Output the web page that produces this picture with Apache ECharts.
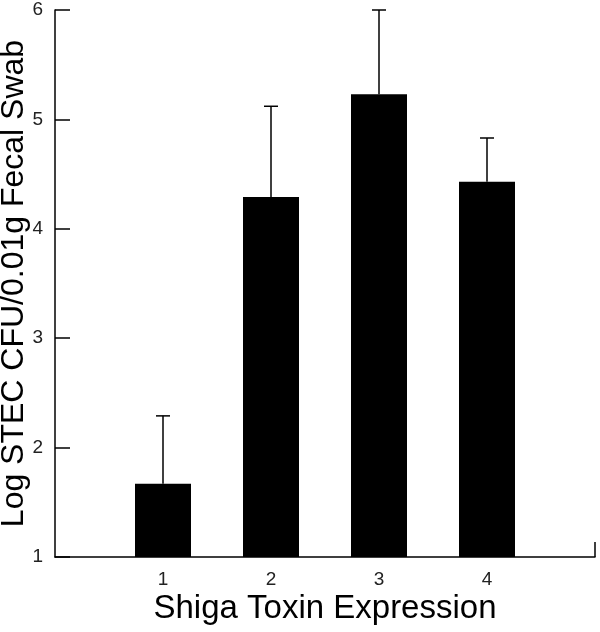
<!DOCTYPE html>
<html>
<head>
<meta charset="utf-8">
<script src="https://cdn.jsdelivr.net/npm/echarts@6/dist/echarts.min.js"></script>
<style>html,body{margin:0;padding:0;background:#fff;}#c{width:600px;height:632px;}</style>
</head>
<body>
<div id="c"></div>
<script>
const categories = [1, 2, 3, 4];
const means = [1.67, 4.29, 5.23, 4.43];
const errorUpper = [2.29, 5.12, 6.00, 4.83];
const yTicks = [1, 2, 3, 4, 5, 6];
const xTitle = 'Shiga Toxin Expression';
const yTitle = 'Log STEC CFU/0.01g Fecal Swab';

const chart = echarts.init(document.getElementById('c'));
const font = 'Liberation Sans, Arial, sans-serif';
chart.setOption({
  animation: false,
  backgroundColor: '#fff',
  grid: { left: 55, right: 5, top: 10, bottom: 75, containLabel: false, outerBoundsMode: 'none' },
  xAxis: {
    type: 'value', min: 0, max: 5, interval: 1,
    name: xTitle, nameLocation: 'middle', nameGap: 35, nameMoveOverlap: false,
    nameTextStyle: { fontFamily: font, fontSize: 33, color: '#000' },
    axisLine: { show: true, lineStyle: { color: '#000', width: 1.5 } },
    axisTick: { show: true, inside: true, length: 15, customValues: [5], lineStyle: { color: '#000', width: 1.5 } },
    axisLabel: { customValues: categories, margin: 13, fontFamily: font, fontSize: 19, color: '#222' },
    splitLine: { show: false }
  },
  yAxis: {
    type: 'value', min: 1, max: 6, interval: 1,
    name: yTitle, nameLocation: 'middle', nameGap: 25, nameMoveOverlap: false,
    nameTextStyle: { fontFamily: font, fontSize: 32, color: '#000' },
    axisLine: { show: true, lineStyle: { color: '#000', width: 1.5 } },
    axisTick: { show: true, inside: true, length: 15, lineStyle: { color: '#000', width: 1.5 } },
    axisLabel: { customValues: yTicks, margin: 12, fontFamily: font, fontSize: 19, color: '#222' },
    splitLine: { show: false }
  },
  series: [
    {
      type: 'bar',
      barWidth: 56,
      itemStyle: { color: '#000' },
      data: categories.map((c, i) => [c, means[i]])
    },
    {
      type: 'custom',
      data: categories.map((c, i) => [c, means[i], errorUpper[i]]),
      renderItem: function (params, api) {
        const x = api.value(0);
        const lo = api.coord([x, api.value(1)]);
        const hi = api.coord([x, api.value(2)]);
        const half = 7;
        const style = { stroke: '#000', lineWidth: 1.5 };
        return {
          type: 'group',
          children: [
            { type: 'line', shape: { x1: lo[0], y1: lo[1], x2: hi[0], y2: hi[1] }, style: style },
            { type: 'line', shape: { x1: hi[0] - half, y1: hi[1], x2: hi[0] + half, y2: hi[1] }, style: style }
          ]
        };
      },
      z: 3
    }
  ]
});
</script>
</body>
</html>
